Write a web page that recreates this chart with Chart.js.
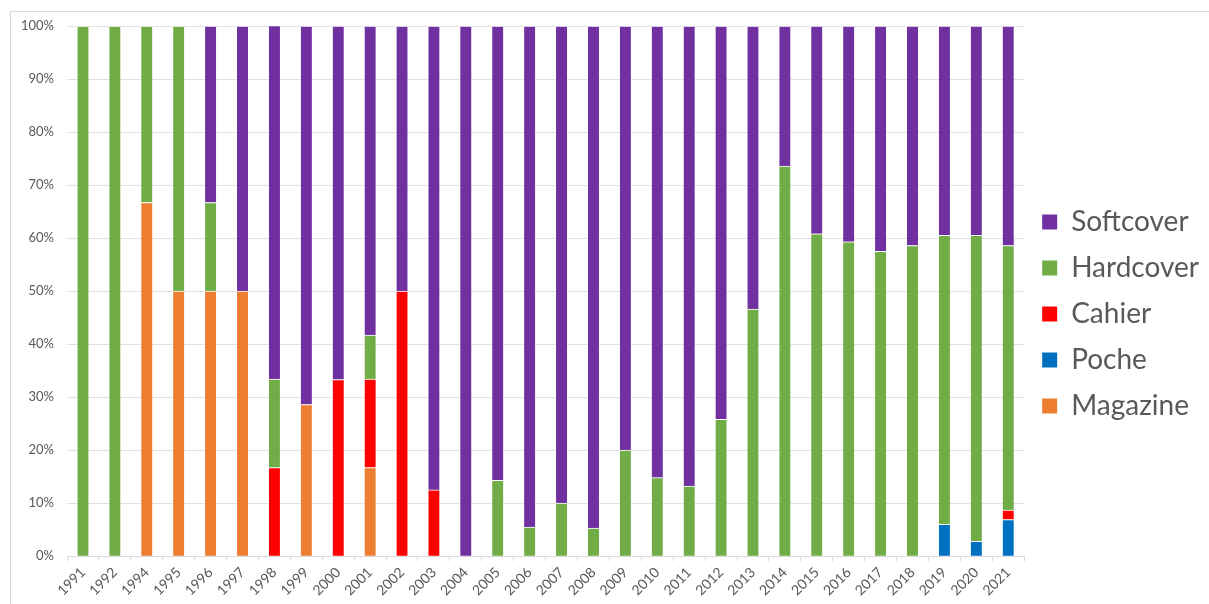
<!DOCTYPE html>
<html>
<head>
<meta charset="utf-8">
<script src="https://cdn.jsdelivr.net/npm/chart.js@4"></script>
<style>
  html, body { margin: 0; padding: 0; background: #fff; }
  #wrap { position: absolute; left: 10px; top: 11px; width: 1199px; height: 593px;
          border-left: 1px solid #d9d9d9; border-top: 1px solid #d9d9d9; }
  #box { position: absolute; left: 0; top: 0; width: 1209px; height: 604px; }
</style>
</head>
<body>
<div id="wrap"></div>
<div id="box"><canvas id="myChart" width="1209" height="604"></canvas></div>
<script>
const years = ["1991","1992","1994","1995","1996","1997","1998","1999","2000","2001","2002",
  "2003","2004","2005","2006","2007","2008","2009","2010","2011","2012","2013","2014",
  "2015","2016","2017","2018","2019","2020","2021"];

const magazine  = [0,0,66.7,50,50,50,0,28.6,0,16.7,0, 0,0,0,0,0,0,0,0,0,0,0,0, 0,0,0,0,0,0,0];
const poche     = [0,0,0,0,0,0,0,0,0,0,0, 0,0,0,0,0,0,0,0,0,0,0,0, 0,0,0,0,6.0,2.8,6.9];
const cahier    = [0,0,0,0,0,0,16.7,0,33.3,16.7,50, 12.5,0,0,0,0,0,0,0,0,0,0,0, 0,0,0,0,0,0,1.8];
const hardcover = [100,100,33.3,50,16.7,0,16.7,0,0,8.3,0, 0,0,14.3,5.5,10,5.3,20,14.8,13.2,25.8,46.6,73.6, 60.8,59.3,57.5,58.6,54.5,57.7,49.9];
const softcover = [0,0,0,0,33.3,50,66.7,71.4,66.7,58.3,50, 87.5,100,85.7,94.5,90,94.7,80,85.2,86.8,74.2,53.4,26.4, 39.2,40.7,42.5,41.4,39.5,39.5,41.4];

const yTicks = [0,10,20,30,40,50,60,70,80,90,100];
const colors = ["#ed7d31", "#0070c0", "#ff0000", "#70ad47", "#7030a0"];

chart();

function chart() {
  const ctx = document.getElementById("myChart");
  const ds = (label, data, color) => ({
    label: label,
    data: data,
    backgroundColor: (c) => (c.raw > 0 ? color : "rgba(0,0,0,0)"),
    borderColor: "#ffffff",
    borderWidth: (c) => (c.raw > 0 ? { top: 1, bottom: 0, left: 0, right: 0 } : 0),
    borderSkipped: false,
    barThickness: 11,
  });
  new Chart(ctx, {
    type: "bar",
    data: {
      labels: years,
      datasets: [
        ds("Magazine", magazine, colors[0]),
        ds("Poche", poche, colors[1]),
        ds("Cahier", cahier, colors[2]),
        ds("Hardcover", hardcover, colors[3]),
        ds("Softcover", softcover, colors[4]),
      ],
    },
    options: {
      responsive: false,
      animation: false,
      layout: { padding: { left: 8, right: 0, top: 26, bottom: 2 } },
      plugins: {
        tooltip: { enabled: false },
        legend: {
          position: "right",
          reverse: true,
          labels: {
            boxWidth: 15,
            boxHeight: 15,
            padding: 18,
            color: "#595959",
            generateLabels: (chart) =>
              Chart.defaults.plugins.legend.labels.generateLabels(chart).map((l) => {
                l.fillStyle = colors[l.datasetIndex];
                l.lineWidth = 0;
                return l;
              }),
            font: { family: "Lato", size: 28 },
          },
        },
      },
      scales: {
        x: {
          stacked: true,
          grid: { display: true, drawOnChartArea: false, drawTicks: true, tickLength: 5, color: "#d9d9d9" },
          border: { color: "#d9d9d9" },
          ticks: { color: "#595959", font: { family: "Lato", size: 14 }, minRotation: 45, maxRotation: 45, padding: 3 },
        },
        y: {
          stacked: true,
          min: 0,
          max: 100,
          afterBuildTicks: (axis) => { axis.ticks = yTicks.map((v) => ({ value: v })); },
          grid: { color: "#e0e0e0", drawTicks: false },
          border: { display: false },
          ticks: { color: "#595959", font: { family: "Lato", size: 13 }, padding: 13, callback: (v) => v + "%" },
        },
      },
    },
  });
}
</script>
</body>
</html>
